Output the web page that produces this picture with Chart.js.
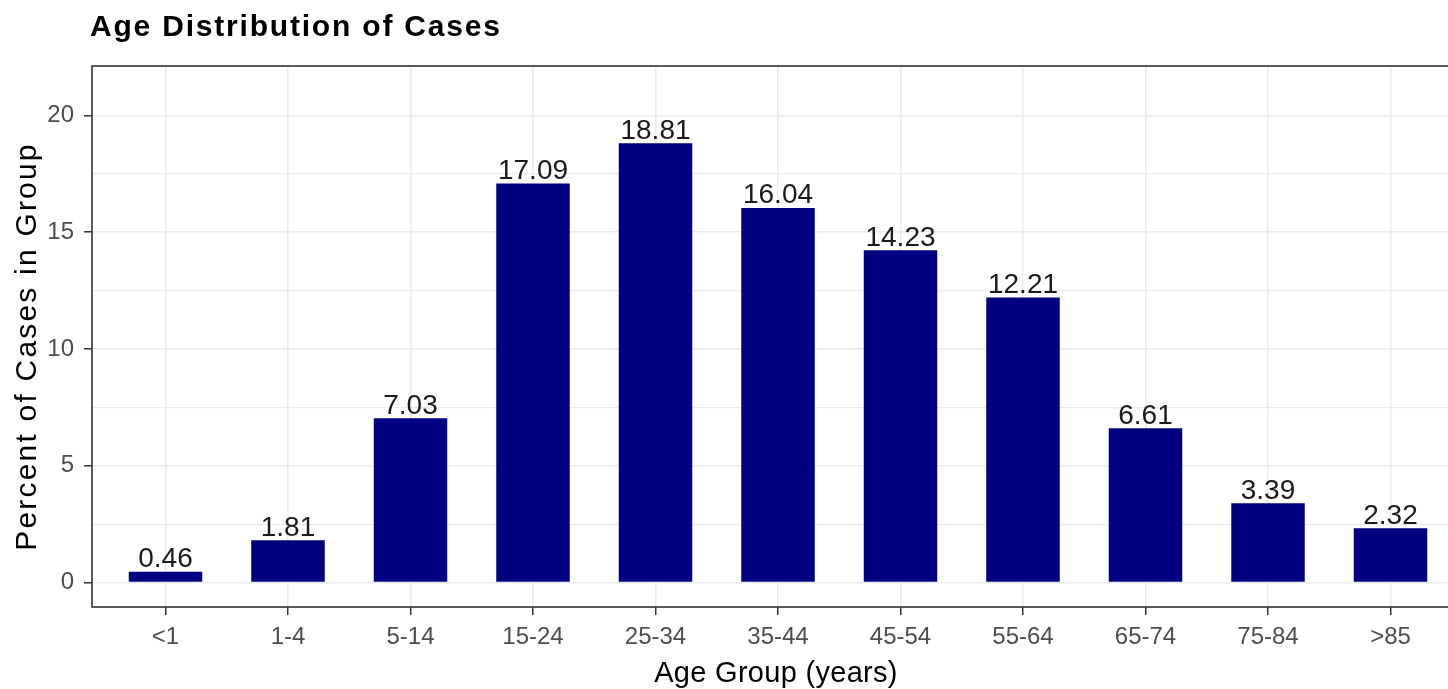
<!DOCTYPE html>
<html>
<head>
<meta charset="utf-8">
<script src="https://cdn.jsdelivr.net/npm/chart.js@4"></script>
<style>
  html, body { margin: 0; padding: 0; background: #fff; overflow: hidden; }
  #wrap { width: 1470px; height: 689px; }
</style>
</head>
<body>
<div id="wrap"><canvas id="c" width="1470" height="689"></canvas></div>
<script>
// ---- data ----
const categories = ["<1", "1-4", "5-14", "15-24", "25-34", "35-44", "45-54", "55-64", "65-74", "75-84", ">85"];
const percentValues = [0.46, 1.81, 7.03, 17.09, 18.81, 16.04, 14.23, 12.21, 6.61, 3.39, 2.32];
const yMajorTicks = [0, 5, 10, 15, 20];
const yMinorTicks = [2.5, 7.5, 12.5, 17.5];
const chartTitle = "Age Distribution of Cases";
const xTitle = "Age Group (years)";
const yTitle = "Percent of Cases in Group";

const FONT = "'Liberation Sans', Arial, sans-serif";
Chart.defaults.font.family = FONT;

const points = categories.map((c, i) => ({ x: i, y: percentValues[i] }));

const decorPlugin = {
  id: 'decor',
  afterDatasetsDraw(chart) {
    const ctx = chart.ctx;
    const meta = chart.getDatasetMeta(0);
    ctx.save();
    ctx.fillStyle = '#1a1a1a';
    ctx.font = "28px " + FONT;
    ctx.textAlign = 'center';
    ctx.textBaseline = 'alphabetic';
    meta.data.forEach((el, i) => {
      ctx.fillText(percentValues[i].toFixed(2), el.x, el.y - 4.5);
    });
    ctx.restore();
  },
  afterDraw(chart) {
    const ctx = chart.ctx;
    const a = chart.chartArea;
    ctx.save();
    // panel border
    ctx.strokeStyle = '#333333';
    ctx.lineWidth = 1.6;
    ctx.strokeRect(a.left, a.top, a.right - a.left, a.bottom - a.top);
    // title
    ctx.fillStyle = '#000';
    ctx.font = "bold 30px " + FONT;
    ctx.textAlign = 'left';
    ctx.textBaseline = 'alphabetic';
    ctx.letterSpacing = '1.8px';
    ctx.fillText(chartTitle, 90, 36);
    // x title
    ctx.font = "29px " + FONT;
    ctx.letterSpacing = '0.3px';
    ctx.textAlign = 'center';
    ctx.fillText(xTitle, 776, 682);
    // y title
    ctx.font = "30px " + FONT;
    ctx.translate(36, 346.5);
    ctx.rotate(-Math.PI / 2);
    ctx.letterSpacing = '2.2px';
    ctx.fillText(yTitle, 0, 0);
    ctx.restore();
  }
};

new Chart(document.getElementById('c'), {
  type: 'bar',
  data: {
    datasets: [{
      data: points,
      backgroundColor: '#000080',
      borderWidth: 0,
      barPercentage: 0.6,
      categoryPercentage: 1.0
    }]
  },
  options: {
    responsive: false,
    animation: false,
    layout: { padding: { top: 66, right: 6, bottom: 0, left: 0 } },
    plugins: { legend: { display: false }, tooltip: { enabled: false }, title: { display: false } },
    scales: {
      x: {
        type: 'linear',
        offset: false,
        min: -0.6,
        max: categories.length - 1 + 0.6,
        afterBuildTicks(scale) { scale.ticks = categories.map((c, i) => ({ value: i })); },
        afterFit(scale) { scale.height = 82; },
        ticks: {
          autoSkip: false, maxRotation: 0, minRotation: 0,
          color: '#4d4d4d', font: { size: 24 }, padding: 8,
          callback: (v) => categories[v]
        },
        grid: {
          color: '#ebebeb', lineWidth: 1.5, tickLength: 8,
          tickColor: '#333333', tickWidth: 1.5, offset: false
        },
        border: { display: false }
      },
      y: {
        min: -1.05,
        max: 22.12,
        afterBuildTicks(scale) {
          scale.ticks = yMajorTicks.concat(yMinorTicks).sort((a, b) => a - b).map(v => ({ value: v }));
        },
        afterFit(scale) { scale.width = 92; },
        ticks: {
          autoSkip: false, color: '#4d4d4d', font: { size: 24 }, padding: 10,
          callback: (v) => yMajorTicks.includes(v) ? String(v) : ''
        },
        grid: {
          color: '#ebebeb',
          lineWidth: (ctx) => (ctx.tick && yMajorTicks.includes(ctx.tick.value)) ? 1.6 : 1.2,
          tickLength: 8,
          tickColor: (ctx) => (ctx.tick && yMajorTicks.includes(ctx.tick.value)) ? '#333333' : 'rgba(0,0,0,0)',
          tickWidth: 1.5
        },
        border: { display: false }
      }
    }
  },
  plugins: [decorPlugin]
});
</script>
</body>
</html>
